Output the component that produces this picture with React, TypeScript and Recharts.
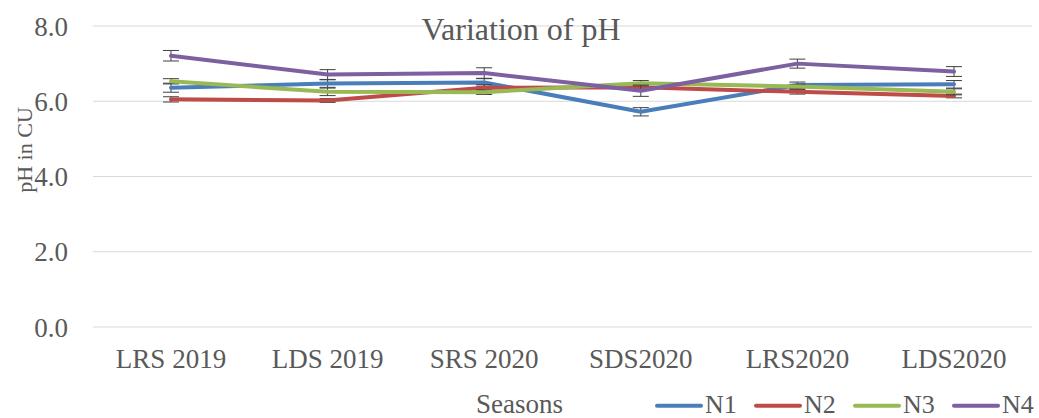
import React from 'react';
import { LineChart, Line, XAxis, YAxis, CartesianGrid, ErrorBar, Legend, Label } from 'recharts';

const categories = ['LRS 2019', 'LDS 2019', 'SRS 2020', 'SDS2020', 'LRS2020', 'LDS2020'];
const seriesNames = ['N1', 'N2', 'N3', 'N4'];
const n1 = [6.36, 6.47, 6.5, 5.72, 6.43, 6.45];
const n2 = [6.05, 6.02, 6.36, 6.37, 6.25, 6.14];
const n3 = [6.53, 6.25, 6.24, 6.48, 6.39, 6.25];
const n4 = [7.21, 6.71, 6.75, 6.28, 7.0, 6.79];
const n1Err = [0.12, 0.1, 0.1, 0.11, 0.08, 0.1];
const n2Err = [0.07, 0.05, 0.08, 0.06, 0.06, 0.05];
const n3Err = [0.07, 0.1, 0.06, 0.07, 0.06, 0.08];
const n4Err = [0.14, 0.13, 0.14, 0.15, 0.12, 0.13];
const yTicks = [0, 2, 4, 6, 8];
const colors = ['#4A7EBB', '#BE4B48', '#98B954', '#7D60A0'];

const values = [n1, n2, n3, n4];
const errors = [n1Err, n2Err, n3Err, n4Err];

const data = categories.map((season, i) => {
  const row: Record<string, string | number> = { season };
  seriesNames.forEach((name, s) => {
    row[name] = values[s][i];
    row[name + 'e'] = errors[s][i];
  });
  return row;
});

const FONT = "'Times New Roman', 'Liberation Serif', serif";
const TEXT = '#595959';

const LegendContent = () => (
  <svg width={390} height={30} style={{ display: 'block', overflow: 'visible' }}>
    {seriesNames.map((name, i) => {
      const x = i * 99;
      return (
        <g key={name}>
          <line x1={x + 2} y1={15.7} x2={x + 46} y2={15.7} stroke={colors[i]} strokeWidth={4} strokeLinecap="round" />
          <text x={x + 50} y={23} fontFamily={FONT} fontSize={26} fill={TEXT}>{name}</text>
        </g>
      );
    })}
  </svg>
);

export default function App() {
  return (
    <div style={{ position: 'absolute', left: 0, top: 0, width: 1039, height: 418, overflow: 'hidden', background: '#fff' }}>
      <LineChart width={1039} height={418} data={data} margin={{ top: 26, right: 7, bottom: 0, left: 0 }}>
        <CartesianGrid vertical={false} stroke="#d9d9d9" strokeWidth={1} />
        <XAxis
          dataKey="season"
          height={91}
          axisLine={false}
          tickLine={false}
          tickSize={0}
          tickMargin={22}
          interval={0}
          padding={{ left: 78, right: 78 }}
          tick={{ fontFamily: FONT, fontSize: 27, fill: TEXT }}
        >
          <Label
            content={() => (
              <text x={519.5} y={413} textAnchor="middle" fontFamily={FONT} fontSize={27} fill={TEXT}>Seasons</text>
            )}
          />
        </XAxis>
        <YAxis
          width={93}
          domain={[0, 8]}
          ticks={yTicks}
          axisLine={false}
          tickLine={false}
          tickSize={0}
          tickMargin={25}
          tickFormatter={(v: number) => v.toFixed(1)}
          tick={{ fontFamily: FONT, fontSize: 27, fill: TEXT }}
        >
          <Label
            content={() => (
              <text transform="translate(32,150) rotate(-90)" x={0} y={0} textAnchor="middle" fontFamily={FONT} fontSize={22} fill={TEXT}>pH in CU</text>
            )}
          />
        </YAxis>
        <Legend
          layout="horizontal"
          verticalAlign="middle"
          align="center"
          content={() => <LegendContent />}
          wrapperStyle={{ left: 655, top: 390, width: 390, height: 30 }}
        />
        {seriesNames.map((name, i) => (
          <Line
            key={name}
            type="linear"
            dataKey={name}
            name={name}
            stroke={colors[i]}
            strokeWidth={4}
            dot={false}
            activeDot={false}
            isAnimationActive={false}
            strokeLinecap="round"
            strokeLinejoin="round"
          >
            <ErrorBar dataKey={name + 'e'} direction="y" width={8} stroke="#404040" strokeWidth={1} isAnimationActive={false} />
          </Line>
        ))}
        <text x={521} y={40} textAnchor="middle" fontFamily={FONT} fontSize={32} fill={TEXT}>Variation of pH</text>
      </LineChart>
    </div>
  );
}
